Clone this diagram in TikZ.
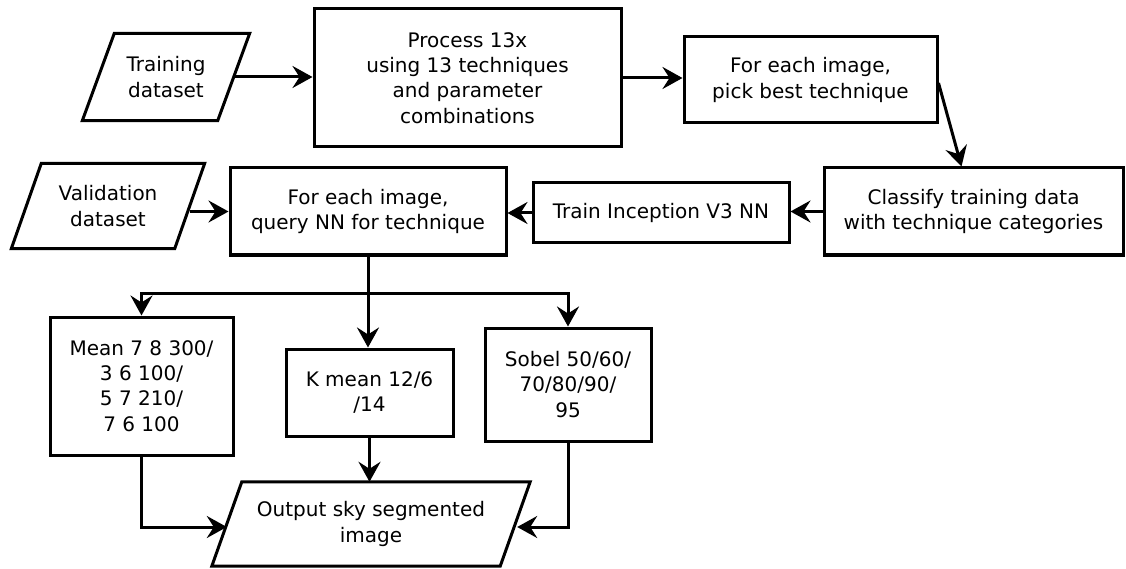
\documentclass[tikz,border=0pt]{standalone}
\usepackage{fontspec}
\setmainfont{DejaVu Sans}
\usetikzlibrary{arrows.meta,calc}
\begin{document}
\begin{tikzpicture}[x=1pt,y=-1pt,
  box/.style={draw,line width=3pt,rectangle,align=center,inner sep=0pt,font=\fontsize{20}{25.3}\selectfont},
  para/.style={draw=none,rectangle,align=center,inner sep=0pt,font=\fontsize{20}{25.3}\selectfont},
  pline/.style={line width=3pt,line join=miter},
  arr/.style={line width=3pt,-{Stealth[length=20pt,width=22pt,inset=7pt]}}]
\useasboundingbox (0,0) rectangle (1126,569);
% parallelograms
\node[para,minimum width=135pt,minimum height=87pt] (train) at (166,77) {Training\\dataset};
\draw[pline] ([xshift=16pt]train.north west) -- ([xshift=16pt]train.north east) -- ([xshift=-16pt]train.south east) -- ([xshift=-16pt]train.south west) -- cycle;
\node[para,minimum width=163pt,minimum height=85pt] (val) at (108,206) {Validation\\dataset};
\draw[pline] ([xshift=15pt]val.north west) -- ([xshift=15pt]val.north east) -- ([xshift=-15pt]val.south east) -- ([xshift=-15pt]val.south west) -- cycle;
\node[para,minimum width=288pt,minimum height=84pt] (out) at (371,524) {Output sky segmented\\image};
\draw[pline] ([xshift=15pt]out.north west) -- ([xshift=15pt]out.north east) -- ([xshift=-15pt]out.south east) -- ([xshift=-15pt]out.south west) -- cycle;
% boxes
\node[box,minimum width=307pt,minimum height=138pt] (proc) at (467.5,78) {Process 13x\\using 13 techniques\\and parameter\\combinations};
\node[box,minimum width=253pt,minimum height=86pt] (pick) at (810.5,80) {For each image,\\pick best technique};
\node[box,minimum width=299pt,minimum height=87pt] (cls) at (973.5,211.5) {Classify training data\\with technique categories};
\node[box,minimum width=256pt,minimum height=60pt] (trn) at (661,213) {Train Inception V3 NN};
\node[box,minimum width=276pt,minimum height=87pt] (qry) at (368,211.5) {For each image,\\query NN for technique};
\node[box,minimum width=183pt,minimum height=138pt] (mean) at (141.5,386) {Mean 7 8 300/\\3 6 100/\\5 7 210/\\7 6 100};
\node[box,minimum width=167pt,minimum height=87pt] (kmean) at (369.5,392.5) {K mean 12/6\\/14};
\node[box,minimum width=166pt,minimum height=113pt] (sobel) at (568,384.5) {Sobel 50/60/\\70/80/90/\\95};
\coordinate (br) at (368,293);
% connectors
\draw[arr] (train.east) -- (train.east -| proc.west);
\draw[arr] (proc.east) -- (proc.east -| pick.west);
\draw[arr] ([yshift=-3pt]pick.east) -- ([xshift=-12pt]cls.north);
\draw[arr] (cls.west) -- (cls.west -| trn.east);
\draw[arr] (trn.west) -- (trn.west -| qry.east);
\draw[arr] (qry.west -| val.east) -- (qry.west);
\draw[arr] (qry.south) -- (qry.south |- kmean.north);
\draw[arr] (br) -| (mean.north);
\draw[arr] (br) -| (sobel.north);
\draw[arr] (kmean.south) -- (kmean.south |- out.north);
\draw[arr] (mean.south) |- ([yshift=-3pt]out.west);
\draw[arr] (sobel.south) |- ([yshift=-3pt,xshift=2pt]out.east);
\end{tikzpicture}
\end{document}
